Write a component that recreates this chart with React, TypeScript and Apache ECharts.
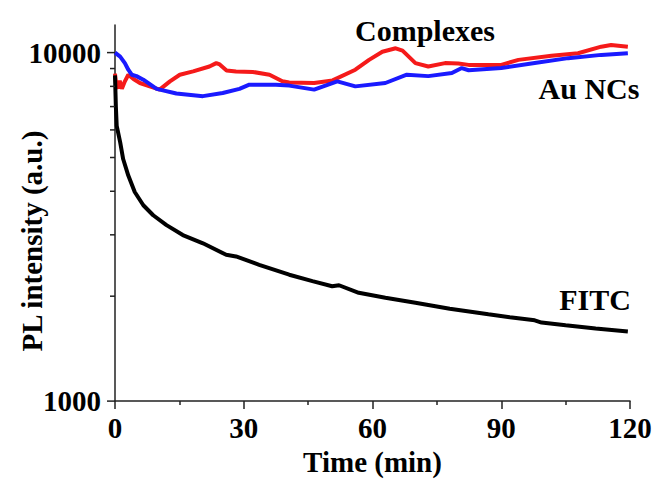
import React, { useEffect, useRef } from "react";
import * as echarts from "echarts";

// FITC (black)
const FITC_T = [0, 0.2, 0.4, 1.2, 1.9, 3.1, 4.6, 6.6, 8.9, 12, 15.8, 20.5, 25.9, 28.2, 33.6, 40.6, 46, 50.6, 52.2, 56.8, 63, 70, 78, 87, 92, 97.8, 99.4, 105, 112, 119.5];
const FITC_V = [8600, 7000, 6160, 5535, 4950, 4437, 3981, 3647, 3414, 3198, 2995, 2837, 2629, 2600, 2461, 2305, 2210, 2136, 2150, 2045, 1980, 1915, 1840, 1774, 1740, 1705, 1680, 1650, 1615, 1584];

// Au NCs (blue)
const AU_T = [0, 1.2, 2.3, 3.1, 3.9, 5, 6.6, 9.7, 14.3, 20.5, 25.1, 29, 31.3, 37.5, 40.6, 46.4, 51.8, 56, 63, 68, 73, 78.5, 80.8, 82.4, 90, 97.8, 105.6, 113.3, 119.5];
const AU_V = [10000, 9740, 9330, 8930, 8640, 8560, 8360, 7870, 7630, 7500, 7660, 7870, 8090, 8090, 8040, 7830, 8270, 8000, 8180, 8640, 8560, 8740, 9030, 8900, 9030, 9330, 9640, 9850, 9960];

// Complexes (red)
const CX_T = [0, 0.3, 0.7, 1.1, 1.6, 2.3, 3.1, 4.3, 5.8, 8.1, 10.4, 12.8, 15.1, 18.2, 22, 23.6, 24.4, 26, 28.2, 32.1, 36, 39, 40.6, 46.4, 50.7, 56, 59.2, 62.3, 65.4, 67, 70, 73, 76.9, 80, 82.4, 90, 94, 101.7, 107.9, 113.3, 115.6, 119.5];
const CX_V = [8700, 8000, 7900, 8300, 7870, 8270, 8640, 8400, 8180, 8000, 7830, 8270, 8640, 8830, 9120, 9330, 9250, 8890, 8830, 8800, 8640, 8270, 8210, 8180, 8320, 8930, 9530, 10060, 10290, 10130, 9330, 9120, 9330, 9300, 9220, 9220, 9530, 9790, 9960, 10400, 10520, 10400];

const Y_MAJOR = [1000, 10000];
const Y_MINOR = [2000, 3000, 4000, 5000, 6000, 7000, 8000, 9000];

const FONT = '"Liberation Serif", "Times New Roman", serif';
const AXIS_COLOR = "#222";

const zip = (t: number[], v: number[]) => t.map((x, i) => [x, v[i]]);

export default function App() {
  const ref = useRef<HTMLDivElement>(null);
  useEffect(() => {
    if (!ref.current) return;
    const chart = echarts.init(ref.current, undefined, { renderer: "svg" });
    const tickData = [
      ...Y_MAJOR.map((v) => [0, v, 8]),
      ...Y_MINOR.map((v) => [0, v, 5]),
    ];
    chart.setOption({
      animation: false,
      backgroundColor: "#fff",
      grid: { left: 115, right: 26, top: 25, bottom: 76 },
      xAxis: {
        type: "value",
        min: 0,
        max: 120,
        interval: 30,
        name: "Time (min)",
        nameLocation: "middle",
        nameGap: 42,
        nameTextStyle: { fontFamily: FONT, fontWeight: "bold", fontSize: 29, color: "#000" },
        axisLine: { show: true, onZero: false, lineStyle: { color: AXIS_COLOR, width: 1.5 } },
        axisTick: { show: true, length: 8, lineStyle: { color: AXIS_COLOR, width: 1.5 } },
        minorTick: { show: true, splitNumber: 2, length: 4, lineStyle: { color: AXIS_COLOR, width: 1.5 } },
        splitLine: { show: false },
        minorSplitLine: { show: false },
        axisLabel: { fontFamily: FONT, fontWeight: "bold", fontSize: 29, color: "#000", margin: 12 },
      },
      yAxis: {
        type: "log",
        logBase: 10,
        min: 1000,
        max: 12000,
        axisLine: { show: true, lineStyle: { color: AXIS_COLOR, width: 1.5 } },
        axisTick: { show: false },
        splitLine: { show: false },
        axisLabel: {
          fontFamily: FONT,
          fontWeight: "bold",
          fontSize: 29,
          color: "#000",
          margin: 14,
          showMaxLabel: false,
          formatter: (v: number) => (Y_MAJOR.some((m) => Math.abs(m - v) < 1) ? String(Math.round(v)) : ""),
        },
      },
      series: [
        {
          type: "custom",
          name: "yticks",
          silent: true,
          data: tickData,
          encode: { x: 0, y: 1 },
          renderItem: (params: any, api: any) => {
            const p = api.coord([api.value(0), api.value(1)]);
            const len = api.value(2);
            return {
              type: "line",
              shape: { x1: p[0] - len, y1: p[1], x2: p[0], y2: p[1] },
              style: { stroke: AXIS_COLOR, lineWidth: 1.5 },
            };
          },
          z: 5,
        },
        {
          type: "line",
          name: "FITC",
          data: zip(FITC_T, FITC_V),
          showSymbol: false,
          lineStyle: { color: "#000", width: 4 },
          itemStyle: { color: "#000" },
          z: 3,
        },
        {
          type: "line",
          name: "Au NCs",
          data: zip(AU_T, AU_V),
          showSymbol: false,
          lineStyle: { color: "#1a1aff", width: 4 },
          itemStyle: { color: "#1a1aff" },
          z: 3,
        },
        {
          type: "line",
          name: "Complexes",
          data: zip(CX_T, CX_V),
          showSymbol: false,
          lineStyle: { color: "#f51a1a", width: 4 },
          itemStyle: { color: "#f51a1a" },
          z: 2,
        },
      ],
      graphic: [
        {
          type: "text",
          x: 32,
          y: 241,
          rotation: Math.PI / 2,
          style: {
            text: "PL intensity (a.u.)",
            fontFamily: FONT,
            fontWeight: "bold",
            fontSize: 29,
            fill: "#000",
            align: "center",
            verticalAlign: "middle",
          },
        },
        {
          type: "text",
          x: 425,
          y: 30,
          style: { text: "Complexes", fontFamily: FONT, fontWeight: "bold", fontSize: 30, fill: "#000", align: "center", verticalAlign: "middle" },
        },
        {
          type: "text",
          x: 589,
          y: 88,
          style: { text: "Au NCs", fontFamily: FONT, fontWeight: "bold", fontSize: 30, fill: "#000", align: "center", verticalAlign: "middle" },
        },
        {
          type: "text",
          x: 595,
          y: 299,
          style: { text: "FITC", fontFamily: FONT, fontWeight: "bold", fontSize: 30, fill: "#000", align: "center", verticalAlign: "middle" },
        },
      ],
    });
    return () => chart.dispose();
  }, []);
  return (
    <div
      ref={ref}
      style={{ position: "fixed", left: 0, top: 0, width: 656, height: 481, background: "#fff" }}
    />
  );
}
